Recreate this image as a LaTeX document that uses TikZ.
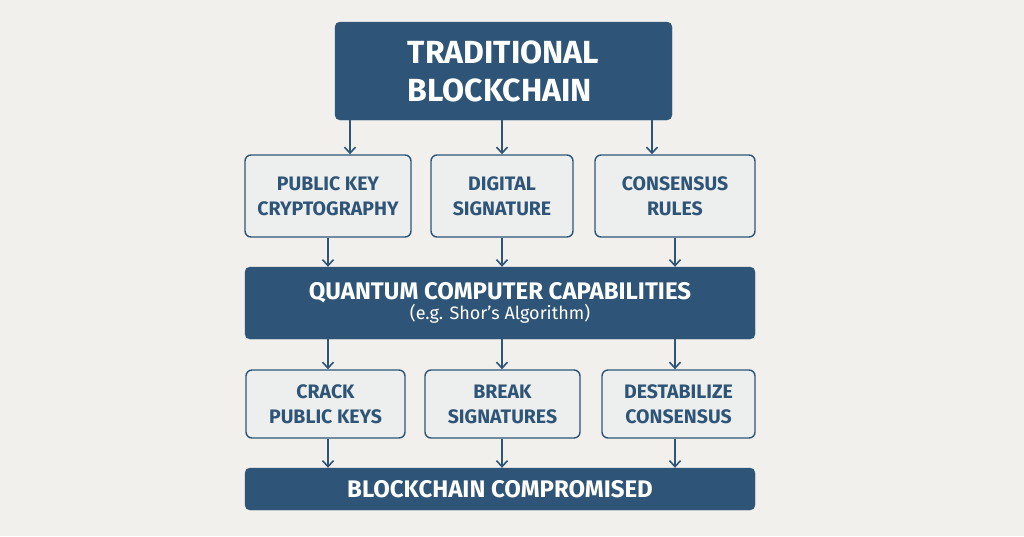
\documentclass[tikz,border=0pt]{standalone}
\usepackage{fontspec}
\setmainfont{Fira Sans}
\usetikzlibrary{arrows.meta}
\definecolor{navy}{HTML}{2E5577}
\definecolor{paper}{HTML}{F1F0EC}
\definecolor{pale}{HTML}{EDEEEE}
\tikzset{
  darkbox/.style={draw=navy,fill=navy,rounded corners=5pt,text=white,font=\bfseries,align=center,inner sep=0pt},
  lightbox/.style={draw=navy,line width=1.4pt,fill=pale,rounded corners=6pt,text=navy,font=\fontsize{19.5}{25}\selectfont\bfseries,align=center,inner sep=0pt},
  arr/.style={draw=navy,line width=1.6pt,-{Straight Barb[length=6pt,width=11pt]}}
}
\begin{document}
\begin{tikzpicture}[x=1pt,y=1pt,yscale=-1]
\fill[paper] (0,0) rectangle (1024,536);
\useasboundingbox (0,0) rectangle (1024,536);

% top
\node[darkbox,minimum width=337,minimum height=98,font=\fontsize{32}{38}\selectfont\bfseries,align=left] (top) at (503.5,71) {TRADITIONAL\\BLOCKCHAIN};

% row two
\node[lightbox,minimum width=166,minimum height=82] (pubkey) at (328,196) {PUBLIC KEY\\CRYPTOGRAPHY};
\node[lightbox,minimum width=142,minimum height=82] (digsig) at (502,196) {DIGITAL\\SIGNATURE};
\node[lightbox,minimum width=160,minimum height=82] (consensus) at (675,196) {CONSENSUS\\RULES};

% quantum
\node[darkbox,minimum width=510,minimum height=72] (quantum) at (500,303) {\fontsize{24}{28}\selectfont QUANTUM COMPUTER CAPABILITIES\\[1pt]\fontsize{18}{21}\selectfont\mdseries (e.g. Shor’s Algorithm)};

% row three
\node[lightbox,minimum width=159,minimum height=68] (crack) at (325.5,404) {CRACK\\PUBLIC KEYS};
\node[lightbox,minimum width=155,minimum height=68] (break) at (502.5,404) {BREAK\\SIGNATURES};
\node[lightbox,minimum width=153,minimum height=68] (destab) at (678.5,404) {DESTABILIZE\\CONSENSUS};

% bottom
\node[darkbox,minimum width=510,minimum height=42,font=\fontsize{24}{28}\selectfont\bfseries] (compromised) at (500,489) {BLOCKCHAIN COMPROMISED};

% arrows
\draw[arr] ([xshift=22]top.south -| pubkey.north) -- ([xshift=22]pubkey.north);
\draw[arr] (top.south -| digsig.north) -- (digsig.north);
\draw[arr] ([xshift=-23]top.south -| consensus.north) -- ([xshift=-23]consensus.north);
\foreach \a/\b in {pubkey/crack,digsig/break,consensus/destab}{
  \draw[arr] (\a.south) -- (\a.south |- quantum.north);
  \draw[arr] (quantum.south -| \a.south) -- (\b.north -| \a.south);
  \draw[arr] (\b.south -| \a.south) -- (compromised.north -| \a.south);
}
\end{tikzpicture}
\end{document}
